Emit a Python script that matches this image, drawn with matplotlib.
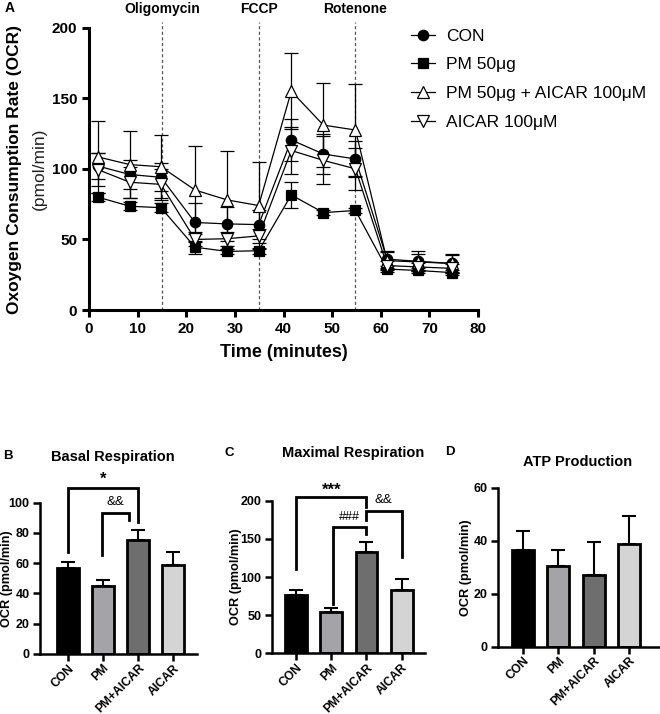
import numpy as np
import matplotlib
matplotlib.use("Agg")
import matplotlib.pyplot as plt

plt.rcParams['font.family'] = ['Liberation Sans', 'DejaVu Sans']

# --- Panel A data (Seahorse time course) ---
times = [1.8, 8.4, 14.8, 21.8, 28.4, 34.9, 41.6, 48.2, 54.8, 61.3, 67.7, 74.6]
con = [102, 96, 94, 62, 61, 60.5, 120.5, 110.5, 107, 36, 34.5, 33]
con_err = [9, 10, 10, 14, 12, 10, 15, 14, 13, 6, 7, 7]
pm = [80, 73.5, 72.5, 44.5, 41.5, 42, 81.5, 69, 70.5, 29, 28, 26.5]
pm_err = [3, 3, 3, 4.5, 2, 2, 9.5, 2, 2, 2, 2, 2]
pm_aicar = [108.5, 103, 101.5, 85, 78, 74, 155, 131, 127.5, 35, 34, 33]
pm_aicar_err = [25.5, 24, 22.5, 31, 34.5, 30.5, 27, 30, 32.5, 6, 6, 6]
aicar = [99.5, 90.5, 89, 50, 50.5, 52.5, 113, 106, 100, 31.5, 30.5, 29.5]
aicar_err = [12, 11, 11, 5, 5, 5, 17, 17, 15, 3, 3, 3]
injections = [15, 34.9, 54.8]
injection_names = ["Oligomycin", "FCCP", "Rotenone"]

# --- Bar panels ---
groups = ["CON", "PM", "PM+AICAR", "AICAR"]
bar_colors = ["#000000", "#a3a3a8", "#6e6e6e", "#d4d4d4"]
basal = [57, 45, 75.5, 59]
basal_err = [3.5, 4, 6.5, 8.5]
maximal = [76.5, 54.5, 133, 83]
maximal_err = [6, 5.5, 13, 15]
atp = [36.5, 30.4, 27, 38.7]
atp_err = [7.1, 6.1, 12.4, 10.6]

W, H = 660, 714
fig = plt.figure(figsize=(W / 100, H / 100), dpi=100)


def px_axes(x0, x1, ytop, ybot):
    return fig.add_axes([x0 / W, 1 - ybot / H, (x1 - x0) / W, (ybot - ytop) / H])


def style(ax, lw=2.0):
    for s in ["top", "right"]:
        ax.spines[s].set_visible(False)
    for s in ["left", "bottom"]:
        ax.spines[s].set_linewidth(lw)
    ax.tick_params(width=lw, length=5, direction="out")


# ---------------- Panel A ----------------
ax = px_axes(89, 478, 27.7, 310)
style(ax, 2.2)
series = [
    (con, con_err, "o", "black", "CON"),
    (pm, pm_err, "s", "black", "PM 50\u03bcg"),
    (pm_aicar, pm_aicar_err, "^", "white", "PM 50\u03bcg + AICAR 100\u03bcM"),
    (aicar, aicar_err, "v", "white", "AICAR 100\u03bcM"),
]
for vals, err, m, fc, lab in series:
    ax.errorbar(times, vals, yerr=err, color="black", lw=0.9, elinewidth=0.9,
                capsize=5, capthick=0.9, marker=m, markersize=8.5 if m in "^v" else 7.5,
                markerfacecolor=fc, markeredgecolor="black", markeredgewidth=0.9,
                label=lab, zorder=3)
for x, name in zip(injections, injection_names):
    ax.axvline(x, ymin=0, ymax=1.02, color="#555555", ls=(0, (2.5, 2)), lw=0.9,
               clip_on=False, zorder=1)
    ax.text(x, 213.5, name, ha="center", va="center", fontsize=10, fontweight="bold")
ax.set_xlim(0, 80)
ax.set_ylim(0, 200)
ax.set_xticks(range(0, 81, 10))
ax.set_yticks([0, 50, 100, 150, 200])
for lbl in ax.get_xticklabels() + ax.get_yticklabels():
    lbl.set_fontweight("bold")
    lbl.set_fontsize(11)
ax.set_xlabel("Time (minutes)", fontsize=13, fontweight="bold", labelpad=6)
handles, labels = ax.get_legend_handles_labels()
handles = [h[0] for h in handles]
ax.legend(handles, labels, loc="upper left", bbox_to_anchor=(0.81, 1.022),
          frameon=False, fontsize=12.5, handlelength=1.4, handletextpad=0.6,
          labelspacing=0.78, borderaxespad=0)
fig.text(15 / W, 1 - 169 / H, "Oxoygen Consumption Rate (OCR)", rotation=90,
         ha="center", va="center", fontsize=12.5, fontweight="bold")
fig.text(39 / W, 1 - 169 / H, "(pmol/min)", rotation=90,
         ha="center", va="center", fontsize=12.5, color="#222222")
fig.text(5 / W, 1 - 8 / H, "A", ha="left", va="center", fontsize=10, fontweight="bold")


# ---------------- Bar panels ----------------
def bar_panel(ax, vals, errs, ylim, yticks, xlim, label_x):
    style(ax, 1.8)
    ax.tick_params(axis="x", pad=1)
    ax.tick_params(axis="y", pad=2.5)
    x = np.arange(len(groups))
    ax.bar(x, vals, width=0.62, color=bar_colors, edgecolor="black", linewidth=2, zorder=2)
    ax.errorbar(x, vals, yerr=[np.zeros(len(vals)), errs], fmt="none", ecolor="black",
                elinewidth=1.5, capsize=5, capthick=1.5, zorder=1)
    ax.set_xlim(*xlim)
    ax.set_ylim(*ylim)
    ax.set_yticks(yticks)
    ax.set_xticks(x)
    ax.set_xticklabels(groups, rotation=45, ha="right", rotation_mode="anchor",
                       fontsize=8.7, fontweight="bold")
    for lbl in ax.get_yticklabels():
        lbl.set_fontweight("bold")
        lbl.set_fontsize(9)
    ax.set_ylabel("OCR (pmol/min)", fontsize=9.2, fontweight="bold")
    ax.yaxis.set_label_coords(label_x, 0.5)


def bracket(ax, x0, x1, y0, y1, top, lw=2):
    ax.plot([x0, x0, x1, x1], [y0, top, top, y1], color="black", lw=lw,
            clip_on=False, solid_joinstyle="miter")


axB = px_axes(40, 197, 502.7, 654)
bar_panel(axB, basal, basal_err, (0, 100), [0, 20, 40, 60, 80, 100], (-0.8, 3.68), -0.172)
bracket(axB, 0, 2, 67.6, 87.4, 110)
axB.text(1, 115.5, "*", ha="center", va="center", fontsize=12, fontweight="bold")
bracket(axB, 0.97, 1.75, 65.4, 88.5, 93.4)
axB.text(1.34, 100.5, "&&", ha="center", va="center", fontsize=9.5)

axC = px_axes(271.7, 425, 500.7, 653.3)
bar_panel(axC, maximal, maximal_err, (0, 200), [0, 50, 100, 150, 200], (-0.69, 3.66), -0.196)
bracket(axC, 0, 2, 110, 192, 205)
axC.text(1.0, 214, "***", ha="center", va="center", fontsize=12, fontweight="bold")
bracket(axC, 1.05, 2, 64.6, 156, 165)
axC.text(1.53, 179, "###", ha="center", va="center", fontsize=9)
bracket(axC, 2, 3, 175, 126.6, 186.5)
axC.text(2.48, 201, "&&", ha="center", va="center", fontsize=9.5)

axD = px_axes(498, 660, 487.7, 646.7)
bar_panel(axD, atp, atp_err, (0, 60), [0, 20, 40, 60], (-0.71, 3.88), -0.162)

fig.text(113 / W, 1 - 457 / H, "Basal Respiration", ha="center", va="center",
         fontsize=10.5, fontweight="bold")
fig.text(353 / W, 1 - 453 / H, "Maximal Respiration", ha="center", va="center",
         fontsize=10.5, fontweight="bold")
fig.text(578 / W, 1 - 462 / H, "ATP Production", ha="center", va="center",
         fontsize=10.5, fontweight="bold")
fig.text(3 / W, 1 - 456 / H, "B", ha="left", va="center", fontsize=9.5, fontweight="bold")
fig.text(225 / W, 1 - 453 / H, "C", ha="left", va="center", fontsize=9.5, fontweight="bold")
fig.text(445 / W, 1 - 452 / H, "D", ha="left", va="center", fontsize=9.5, fontweight="bold")

fig.savefig("out.png", dpi=100)
